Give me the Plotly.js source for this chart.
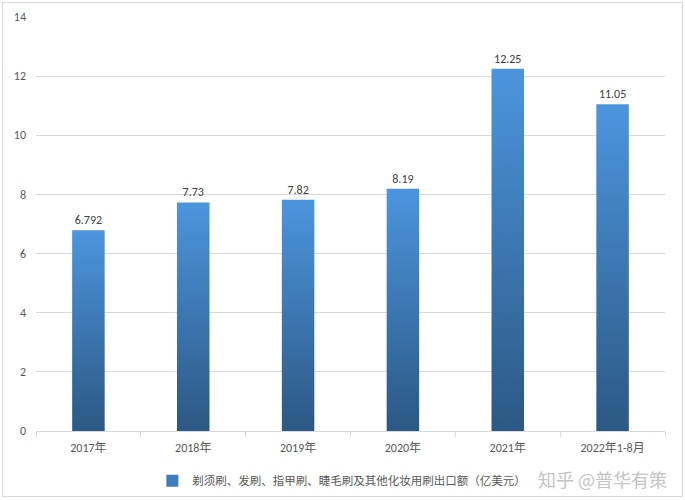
<!DOCTYPE html>
<html>
<head>
<meta charset="utf-8">
<script src="https://cdn.plot.ly/plotly-3.0.1.min.js"></script>
<style>
html,body{margin:0;padding:0;background:#fff;}
#wrap{position:relative;width:685px;height:500px;}
#chart{width:685px;height:500px;}
#frame{position:absolute;left:2px;top:2px;width:679px;height:493px;border:1px solid #D9D9D9;pointer-events:none;}
</style>
</head>
<body>
<div id="wrap"><div id="chart"></div><div id="frame"></div></div>
<script>
const categories = ['2017年','2018年','2019年','2020年','2021年','2022年1-8月'];
const values = [6.792, 7.73, 7.82, 8.19, 12.25, 11.05];
const valueLabels = ['6.792','7.73','7.82','8.19','12.25','11.05'];
const seriesName = '剃须刷、发刷、指甲刷、睫毛刷及其他化妆用刷出口额（亿美元）';
const watermark = '知乎 @普华有策';

const font = 'Calibri, Carlito, "Noto Sans CJK SC", sans-serif';

const trace = {
  type: 'bar',
  x: categories,
  y: values,
  name: seriesName,
  text: valueLabels,
  texttemplate: '%{text}',
  textposition: 'outside',
  cliponaxis: false,
  textfont: {family: font, size: 12, color: '#404040'},
  marker: {color: '#3F7CC0', line: {width: 0}},
  showlegend: true,
  hoverinfo: 'x+y'
};

const layout = {
  width: 685, height: 500,
  margin: {l: 35.5, r: 19.5, t: 17, b: 69, autoexpand: false},
  paper_bgcolor: '#ffffff',
  plot_bgcolor: '#ffffff',
  font: {family: font, size: 12, color: '#595959'},
  bargap: 0.69,
  showlegend: true,
  legend: {orientation: 'h', x: 0.185, xanchor: 'left', y: -0.085, yanchor: 'top',
           font: {family: '"Noto Sans CJK SC", sans-serif', size: 11.5, color: '#595959'},
           itemwidth: 30},
  xaxis: {
    type: 'category',
    showgrid: false,
    showline: true, linecolor: '#D9D9D9', linewidth: 1,
    ticks: 'outside', tickson: 'boundaries', ticklen: 5, tickcolor: '#D9D9D9',
    ticklabelstandoff: 6,
    tickfont: {family: font, size: 12, color: '#595959'},
    fixedrange: true
  },
  yaxis: {
    range: [0, 14], dtick: 2, tick0: 0,
    showgrid: true, gridcolor: '#D9D9D9', gridwidth: 1,
    zeroline: false, showline: false, ticks: '',
    ticklabelstandoff: 9,
    tickfont: {family: font, size: 12, color: '#595959'},
    fixedrange: true
  },
  annotations: [{
    text: watermark, xref: 'paper', yref: 'paper', x: 1.006, y: -0.08,
    xanchor: 'right', yanchor: 'top', showarrow: false,
    font: {family: '"Noto Sans CJK SC", sans-serif', size: 18, color: '#C4C4C4'}
  }]
};

Plotly.newPlot('chart', [trace], layout, {displayModeBar: false, staticPlot: true}).then(function(gd){
  const svgNS = 'http://www.w3.org/2000/svg';
  const svg = gd.querySelector('svg.main-svg');
  let defs = svg.querySelector('defs');
  if (!defs) { defs = document.createElementNS(svgNS, 'defs'); svg.insertBefore(defs, svg.firstChild); }
  const grad = document.createElementNS(svgNS, 'linearGradient');
  grad.setAttribute('id', 'barGrad');
  grad.setAttribute('x1', '0'); grad.setAttribute('y1', '0');
  grad.setAttribute('x2', '0'); grad.setAttribute('y2', '1');
  [['0%', '#4C95DE'], ['100%', '#2C5884']].forEach(function(s){
    const st = document.createElementNS(svgNS, 'stop');
    st.setAttribute('offset', s[0]); st.setAttribute('stop-color', s[1]);
    grad.appendChild(st);
  });
  defs.appendChild(grad);
  gd.querySelectorAll('.barlayer .point path').forEach(function(p){
    p.style.fill = 'url(#barGrad)';
  });
});
</script>
</body>
</html>
